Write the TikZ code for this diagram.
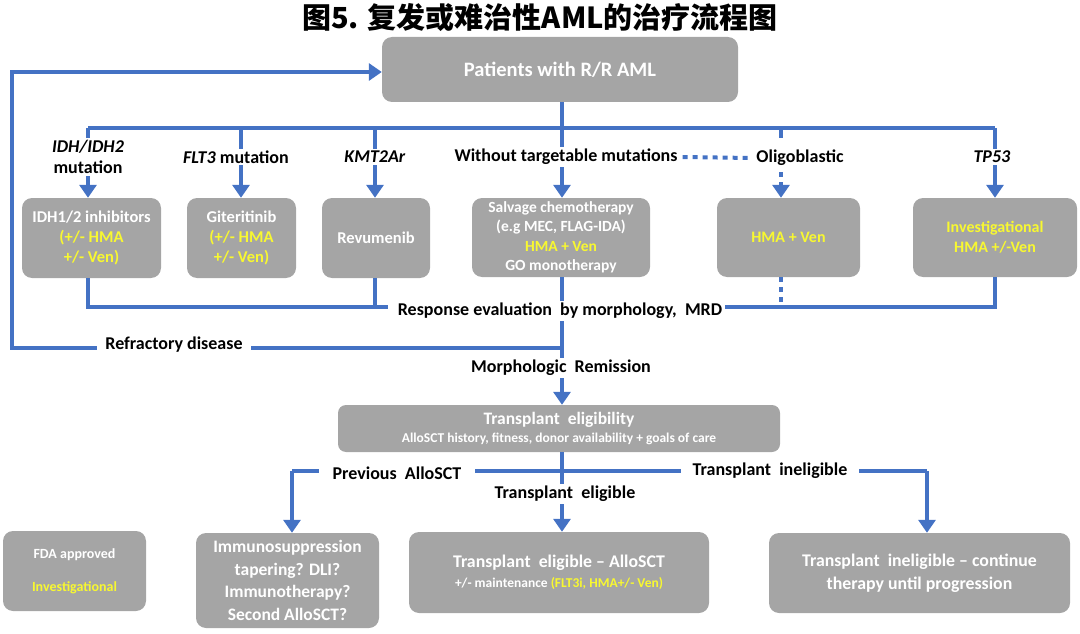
\documentclass[tikz,border=0pt]{standalone}
\usepackage{fontspec}
\setmainfont{Carlito}
\newfontfamily\cjk{Noto Sans CJK SC}
\usetikzlibrary{arrows.meta}
\definecolor{bl}{HTML}{4472C4}
\definecolor{bx}{HTML}{A5A5A5}
\definecolor{yl}{HTML}{F8F830}
\newcommand\myfs[2]{\fontsize{#1}{#2}\selectfont}
\begin{document}
\begin{tikzpicture}[x=1pt,y=-1pt,
  box/.style={fill=bx, rounded corners=10pt, text=white, align=center, inner sep=0pt, font=\bfseries\myfs{16.5}{20}},
  lbl/.style={fill=white, inner xsep=5pt, inner ysep=2pt, text=black, align=center, font=\bfseries\myfs{18}{21}},
  ln/.style={draw=bl, line width=4pt},
  arr/.style={ln, -{Triangle[width=17pt,length=13pt]}},
  dotln/.style={ln, dash pattern=on 5pt off 5pt}]
\useasboundingbox (0,0) rectangle (1080,634);
% title
\node[font=\cjk\bfseries\myfs{29}{32}] (title) at (540,18) {图5. 复发或难治性AML的治疗流程图};
% top box
\node[box, minimum width=356, minimum height=65, font=\bfseries\myfs{20.5}{22}] (pat) at (560,69.5) {Patients with R/R AML};
% treatment boxes
\node[box, minimum width=139, minimum height=80] (idh) at (91.5,238) {IDH1/2 inhibitors\\\textcolor{yl}{(+/- HMA}\\\textcolor{yl}{+/- Ven)}};
\node[box, minimum width=109, minimum height=80] (git) at (241.5,238) {Giteritinib\\\textcolor{yl}{(+/- HMA}\\\textcolor{yl}{+/- Ven)}};
\node[box, minimum width=108, minimum height=80] (rev) at (376,238) {Revumenib};
\node[box, minimum width=178, minimum height=79, font=\bfseries\myfs{15.5}{19.5}] (sal) at (561,237.5) {Salvage chemotherapy\\(e.g MEC, FLAG-IDA)\\\textcolor{yl}{HMA + Ven}\\GO monotherapy};
\node[box, minimum width=143, minimum height=79, font=\bfseries\myfs{16}{20}] (hma) at (788.5,237.5) {\textcolor{yl}{HMA + Ven}};
\node[box, minimum width=164, minimum height=79, font=\bfseries\myfs{16}{20}] (inv) at (995,237.5) {\textcolor{yl}{Investigational}\\\textcolor{yl}{HMA +/-Ven}};
% transplant eligibility
\node[box, minimum width=442, minimum height=47, rounded corners=8pt] (te) at (559,428.5) {{\myfs{17.5}{19}Transplant\ \ eligibility}\\[-2pt]{\myfs{13.5}{14}AlloSCT history, fitness, donor availability + goals of care}};
% bottom boxes
\node[box, minimum width=143, minimum height=80, font=\bfseries\myfs{14}{33}] (leg) at (74.5,571) {FDA approved\\\textcolor{yl}{Investigational}};
\node[box, minimum width=183, minimum height=95, font=\bfseries\myfs{17.5}{22.5}] (imm) at (287.5,580.5) {Immunosuppression\\tapering? DLI?\\Immunotherapy?\\Second AlloSCT?};
\node[box, minimum width=300, minimum height=81] (tel) at (559,572.5) {{\myfs{17.8}{20}Transplant\ \ eligible -- AlloSCT}\\[0pt]{\myfs{13.5}{15}+/- maintenance \textcolor{yl}{(FLT3i, HMA+/- Ven)}}};
\node[box, minimum width=301, minimum height=80, font=\bfseries\myfs{17.8}{23}] (tin) at (919.5,573) {Transplant\ \ ineligible -- continue\\therapy until progression};
% coordinates
\coordinate (b1) at (88,128);
\coordinate (b2) at (241,128);
\coordinate (b3) at (375,128);
\coordinate (b4) at (562,128);
\coordinate (b5) at (781,128);
\coordinate (b6) at (995,128);
\coordinate (c1) at (88,307);
\coordinate (c3) at (375,307);
\coordinate (c3e) at (388,307);
\coordinate (c6w) at (718,307);
\coordinate (c6) at (995,307);
\coordinate (j1) at (562,348);
\coordinate (l1) at (12,348);
\coordinate (l2) at (12,72);
\coordinate (j2) at (562,471);
\coordinate (k1) at (292,471);
\coordinate (k2) at (927,471);
% top bus
\draw[ln] (pat.south -| b4) -- (b4);
\draw[ln] (b1) -- (b6);
\draw[arr] (b1) -- (b1 |- idh.north);
\draw[arr] (b2) -- (b2 |- git.north);
\draw[arr] (b3) -- (b3 |- rev.north);
\draw[arr] (b4) -- (b4 |- sal.north);
\draw[ln] (b5) -- ++(0,10);
\draw[arr, dash pattern=on 5pt off 5pt] (781,152) -- (b5 |- hma.north);
\draw[arr] (b6) -- (b6 |- inv.north);
% lower collection
\draw[ln] (idh.south -| c1) -- (c1) -- (c3e);
\draw[ln] (git.south -| b2) -- (git.south -| b2 |- c1);
\draw[ln] (rev.south -| c3) -- (c3);
\draw[ln] (c6w) -- (c6) -- (inv.south -| c6);
\draw[dotln] (hma.south -| b5) -- (b5 |- c6);
\draw[ln] (sal.south -| b4) -- (j1);
\draw[arr] (j1) -- (te.north -| j1);
\draw[arr] (j1) -- (l1) -- (l2) -- (pat.west |- l2);
\node[lbl, inner xsep=3pt] (resp) at (560,311) {Response\ evaluation\ \ by\ morphology,\ \ MRD};
\node[lbl, inner xsep=8pt] (refr) at (174,345) {Refractory disease};
\node[lbl] (morph) at (561,368) {Morphologic\ \ Remission};
% branch labels
\node[lbl] (lidh) at (88,157) {\textit{IDH/IDH2}\\mutation};
\node[lbl] (lflt) at (236,157) {\textit{FLT3} mutation};
\node[lbl] (lkmt) at (375,157) {\textit{KMT2Ar}};
\node[lbl] (lwo) at (566,157) {Without targetable mutations};
\node[lbl] (loli) at (800,158) {Oligoblastic};
\node[lbl] (ltp) at (992,157) {\textit{TP53}};
\draw[dotln] (lwo.east) -- (loli.west);
% transplant branches
\draw[ln] (te.south -| j2) -- (j2);
\draw[ln] (k1) -- (k2);
\draw[arr] (k1) -- (k1 |- imm.north);
\draw[arr] (k2) -- (k2 |- tin.north);
\draw[arr] (j2) -- (j2 |- tel.north);
\node[lbl, inner xsep=14pt] (lprev) at (397,473) {Previous\ \ AlloSCT};
\node[lbl, inner xsep=12pt] (lineli) at (770,471) {Transplant\ \ ineligible};
\node[lbl] (leli) at (565,494) {Transplant\ \ eligible};
\end{tikzpicture}
\end{document}
